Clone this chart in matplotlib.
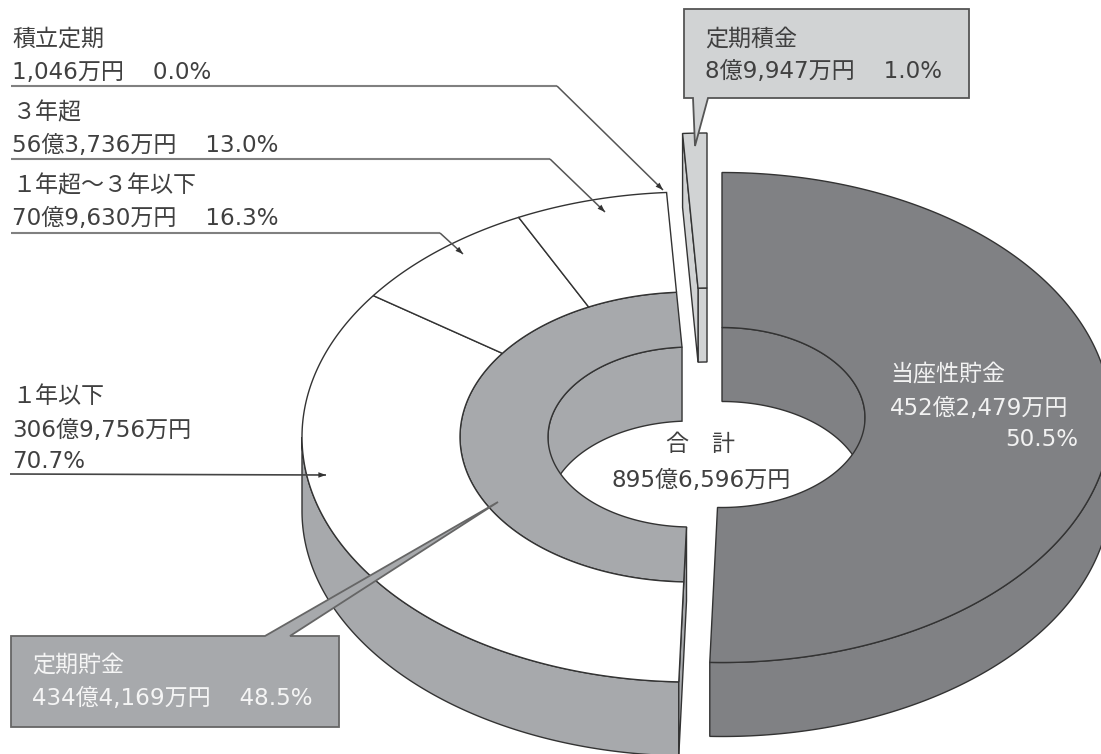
import numpy as np
import matplotlib
matplotlib.use('Agg')
import matplotlib.pyplot as plt
from matplotlib.patches import Polygon

plt.rcParams['font.family'] = ['DejaVu Sans', 'Noto Sans CJK JP']

# share of the total, %
main_names = ['当座性貯金', '定期貯金', '定期積金']
main_shares = [50.5, 48.5, 1.0]
# breakdown of 定期貯金, %, clockwise from the bottom
sub_names = ['\uff11年以下', '\uff11年超〜\uff13年以下', '\uff13年超', '積立定期']
sub_shares = [70.7, 16.3, 13.0, 0.0]

total_text = '895億6,596万円'
main_amounts = ['452億2,479万円', '434億4,169万円', '8億9,947万円']
sub_amounts = ['306億9,756万円', '70億9,630万円', '56億3,736万円', '1,046万円']

DARK = '#808184'
MID = '#a7a9ac'
LIGHT = '#d1d3d4'
EDGE = '#333333'
TXT = '#404040'

# pie shape in pixels
RX_OUT, RY_OUT = 389, 245
RX_MID, RY_MID = 231, 145
RX_IN, RY_IN = 143, 90
DEPTH = 74

fig = plt.figure(figsize=(11.01, 7.54), dpi=100)
ax = fig.add_axes([0, 0, 1, 1])
ax.set_xlim(0, 1101)
ax.set_ylim(754, 0)
ax.axis('off')


def arc(c, rx, ry, a0, a1):
    # angles in degrees, clockwise from the top
    t = np.radians(np.linspace(a0, a1, max(int(abs(a1 - a0) * 2), 2)))
    return np.column_stack([c[0] + rx * np.sin(t), c[1] - ry * np.cos(t)])


def poly(pts, fc, lw=1.0, ec=EDGE):
    ax.add_patch(Polygon(pts, closed=True, fc=fc, ec=ec, lw=lw, joinstyle='miter'))


def band(c, a0, a1, r0, r1, fc):
    poly(np.vstack([arc(c, r0[0], r0[1], a0, a1), arc(c, r1[0], r1[1], a1, a0)]), fc)


def wall(c, a0, a1, rx, ry, fc):
    top = arc(c, rx, ry, a0, a1)
    poly(np.vstack([top, top[::-1] + [0, DEPTH]]), fc)


def cut_face(c, a, fc):
    p = arc(c, RX_IN, RY_IN, a, a + 1)[0]
    q = arc(c, RX_OUT, RY_OUT, a, a + 1)[0]
    poly([p, q, q + [0, DEPTH], p + [0, DEPTH]], fc)


a_right = main_shares[0] * 3.6
a_left = a_right + main_shares[1] * 3.6

# 当座性貯金
c_right = (722, 417.5)
wall(c_right, 0, 90, RX_IN, RY_IN, DARK)
wall(c_right, 90, a_right, RX_OUT, RY_OUT, DARK)
band(c_right, 0, a_right, (RX_OUT, RY_OUT), (RX_IN, RY_IN), DARK)

# 定期貯金
c_left = (691, 437)
wall(c_left, 270, a_left, RX_IN, RY_IN, MID)
wall(c_left, a_right, 270, RX_OUT, RY_OUT, MID)
cut_face(c_left, a_right, MID)
band(c_left, a_right, a_left, (RX_MID, RY_MID), (RX_IN, RY_IN), MID)
a = a_right
for s in sub_shares[:-1]:
    span = s / 100 * (a_left - a_right)
    band(c_left, a, a + span, (RX_OUT, RY_OUT), (RX_MID, RY_MID), 'white')
    a += span

# 定期積金
c_small = (707, 378)
wall(c_small, a_left, 360, RX_IN, RY_IN, LIGHT)
cut_face(c_small, a_left, LIGHT)
band(c_small, a_left, 360, (RX_OUT, RY_OUT), (RX_IN, RY_IN), LIGHT)

# leader lines
leaders = [[(11, 86), (557, 86), (663, 190)],
           [(11, 159), (550, 159), (605, 212)],
           [(11, 233), (440, 233), (463, 254)],
           [(10, 474), (326, 475)]]
for ld in leaders:
    xs, ys = zip(*ld)
    if len(ld) == 3:
        ax.plot(xs[:2], ys[:2], color='#808080', lw=1.5, solid_capstyle='butt')
        ax.plot(xs[1:], ys[1:], color='#555555', lw=1.1, solid_capstyle='butt')
    else:
        ax.plot(xs, ys, color='#444444', lw=1.2, solid_capstyle='butt')
    ax.annotate('', xy=ld[-1], xytext=ld[-2],
                arrowprops=dict(arrowstyle='-|>,head_length=0.55,head_width=0.2', color='#333333',
                                lw=0, shrinkA=0, shrinkB=0))

# callouts
poly([(684, 9), (969, 9), (969, 98), (708, 98), (695, 146), (693, 98), (684, 98)], LIGHT, 1.3, '#555555')
poly([(11, 636), (265, 636), (498, 502), (290, 636), (339, 636), (339, 727), (11, 727)], MID, 1.3, '#666666')

fs = 16.6


def label(x, y, s, color=TXT, ha='left'):
    ax.text(x, y, s, color=color, ha=ha, va='baseline', fontsize=fs)


gap = '    '
label(12, 46, sub_names[3])
label(12, 79, sub_amounts[3] + gap + '%.1f%%' % sub_shares[3])
label(12, 119, sub_names[2])
label(12, 152, sub_amounts[2] + gap + '%.1f%%' % sub_shares[2])
label(12, 192, sub_names[1])
label(12, 225, sub_amounts[1] + gap + '%.1f%%' % sub_shares[1])
label(12, 403, sub_names[0])
label(12, 437, sub_amounts[0])
label(12, 468, '%.1f%%' % sub_shares[0])

label(890, 381, main_names[0], '#f2f2f2')
label(890, 415, main_amounts[0], '#f2f2f2')
label(1078, 446, '%.1f%%' % main_shares[0], '#f2f2f2', ha='right')

label(701, 451, '合\u3000計', ha='center')
label(701, 487, total_text, ha='center')

label(705, 46, main_names[2])
label(705, 78, main_amounts[2] + gap + '%.1f%%' % main_shares[2])
label(32, 672, main_names[1], '#f5f5f5')
label(32, 705, main_amounts[1] + gap + '%.1f%%' % main_shares[1], '#f5f5f5')

fig.savefig('out.png', dpi=100)
